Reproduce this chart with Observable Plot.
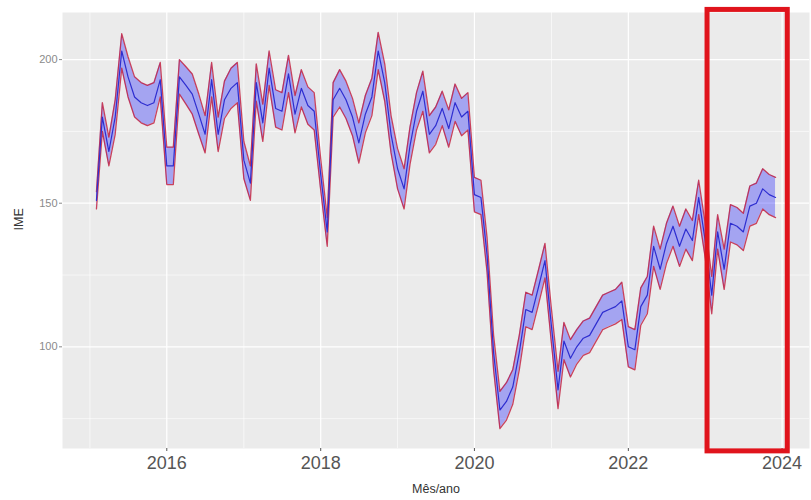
<!DOCTYPE html>
<html>
<head>
<meta charset="utf-8">
<script src="https://cdn.jsdelivr.net/npm/d3@7"></script>
<script src="https://cdn.jsdelivr.net/npm/@observablehq/plot@0.6"></script>
<style>
  html, body { margin: 0; padding: 0; background: #ffffff; }
  #chart svg { display: block; }
</style>
</head>
<body>
<div id="chart"></div>
<script>
// Monthly series: first month Feb 2015, last month Dec 2023
const startYear = 2015, startMonth = 1; // February (0-based)
const ime = [
  151,180,168,180,203,194,187,185,184,185,193,163,
  163,194,191,188,181,174,193,174,186,190,192,165,
  157,192,178,197,183,182,195,181,190,184,182,160,
  140,186,190,186,180,171,181,187,203,192,174,162,
  155,170,182,189,174,177,183,176,185,180,182,153,
  152,132,98,78,81,86,98,113,112,121,130,107,
  85,102,96,100,103,104,108,112,113,114,116,100,
  99,114,118,135,127,136,142,135,141,137,152,137,
  118,140,127,143,142,140,149,150,155,153,152
];
// half-width of the confidence band
const margin = [
  3,5,5,6,6,7,7,7,7,7,6,6.5,
  6.5,6,6.5,7,7,6.5,6,6,6.5,7,7,6.5,
  6,6.5,6.5,6,6.5,6.5,6.5,6.5,6.5,6.5,6.5,5.5,
  5,6,6.5,6.5,6.5,7,6.5,6.5,6.5,6.5,6.5,7,
  7,6.5,6.5,7,6.5,6.5,6,6.5,6.5,6.5,6.5,6,
  6,6,6,6.5,6.5,6,6,6,6,6,6,6,
  6.5,6.5,6.5,6,6,6,6,6,6,6,6.5,7,
  7,6.5,6.5,7,7,7,7,7,7,7,6,6,
  6.5,6,7,6.5,6.5,6.5,7,7,7,7,7
];
const majorYears = [2016, 2018, 2020, 2022, 2024];
const minorYears = [2015, 2017, 2019, 2021, 2023];
const yMajor = [100, 150, 200];
const yMinor = [75, 125, 175];
const highlight = [{start: "2023-01-12", end: "2024-01-28", bottom: 63.6, top: 217.3}];

const data = ime.map((v, i) => ({
  date: new Date(Date.UTC(startYear, startMonth + i, 1)),
  mid: v,
  lo: v - margin[i],
  hi: v + margin[i]
}));

const t0 = +data[0].date, t1 = +data[data.length - 1].date;
const pad = (t1 - t0) * 0.05;
const xDomain = [new Date(t0 - pad), new Date(t1 + pad)];
const lo = d3.min(data, d => d.lo), hi = d3.max(data, d => d.hi);
const yDomain = [lo - (hi - lo) * 0.05, hi + (hi - lo) * 0.05];

const yr = y => new Date(Date.UTC(y, 0, 1));
const font = "'Liberation Sans', Arial, sans-serif";

const chart = Plot.plot({
  width: 811,
  height: 500,
  marginLeft: 62,
  marginRight: 2,
  marginTop: 12,
  marginBottom: 52,
  style: {fontFamily: font, background: "#ffffff", overflow: "visible"},
  x: {type: "utc", domain: xDomain},
  y: {domain: yDomain},
  marks: [
    Plot.frame({fill: "#ebebeb", stroke: null}),
    Plot.ruleX(minorYears.map(yr), {stroke: "#ffffff", strokeWidth: 0.6}),
    Plot.ruleY(yMinor, {stroke: "#ffffff", strokeWidth: 0.6}),
    Plot.ruleX(majorYears.map(yr), {stroke: "#ffffff", strokeWidth: 1.2}),
    Plot.ruleY(yMajor, {stroke: "#ffffff", strokeWidth: 1.2}),
    Plot.areaY(data, {x: "date", y1: "lo", y2: "hi", fill: "#0000ff", fillOpacity: 0.3}),
    Plot.lineY(data, {x: "date", y: "lo", stroke: "#c01838", strokeOpacity: 0.8, strokeWidth: 1.3}),
    Plot.lineY(data, {x: "date", y: "hi", stroke: "#c01838", strokeOpacity: 0.8, strokeWidth: 1.3}),
    Plot.lineY(data, {x: "date", y: "mid", stroke: "#2e2ed0", strokeWidth: 1.2}),
    Plot.axisX({ticks: majorYears.map(yr), tickFormat: d3.utcFormat("%Y"), label: null,
      fontSize: 18, tickSize: 3, tickPadding: 5, color: "#555555"}),
    Plot.axisY({ticks: yMajor, label: null, fontSize: 11, tickSize: 3, tickPadding: 2, color: "#8a8a8a"}),
    Plot.text(["Mês/ano"], {frameAnchor: "bottom", dy: 44, fontSize: 12.5, fill: "#333333"}),
    Plot.text(["IME"], {frameAnchor: "left", dx: -44, rotate: -90, fontSize: 12.5, fill: "#333333"}),
    Plot.rect(highlight, {
      x1: d => new Date(d.start), x2: d => new Date(d.end),
      y1: "bottom", y2: "top",
      fill: "none", stroke: "#e0141c", strokeWidth: 5
    })
  ]
});
document.getElementById("chart").appendChild(chart);
</script>
</body>
</html>
